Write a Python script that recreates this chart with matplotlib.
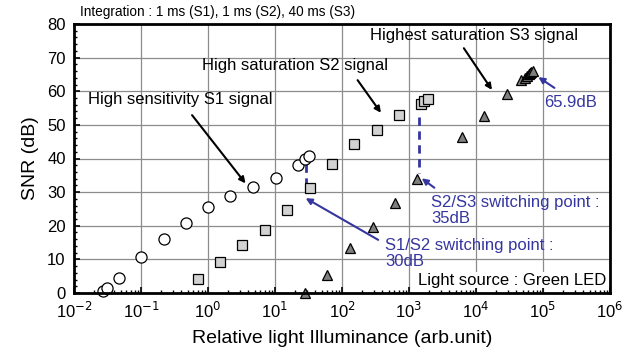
import matplotlib
matplotlib.use("Agg")
import matplotlib.pyplot as plt
from matplotlib.ticker import LogLocator, MultipleLocator, NullFormatter

plt.rcParams['font.family'] = ['Liberation Sans', 'DejaVu Sans']

# S1: high sensitivity (circles)
s1_x = [0.0275, 0.0316, 0.0476, 0.100, 0.217, 0.47, 1.0, 2.16, 4.73, 10.2, 22.3, 28.4, 31.8]
s1_y = [0.7, 1.6, 4.5, 10.7, 16.1, 20.9, 25.6, 28.8, 31.5, 34.1, 38.2, 39.9, 40.6]
# S2: high saturation (squares)
s2_x = [0.70, 1.5, 3.27, 7.06, 15.3, 33.3, 71, 152, 328, 708, 1514, 1694, 1945]
s2_y = [4.2, 9.3, 14.4, 18.7, 24.7, 31.3, 38.3, 44.3, 48.5, 52.9, 56.2, 57.1, 57.6]
# S3: highest saturation (triangles)
s3_x = [27.7, 59, 132, 286, 617, 1318, 6150, 13280, 29040, 47500, 53000, 57000, 61000, 64000, 67000, 70000]
s3_y = [0.0, 5.3, 13.5, 19.7, 26.7, 33.8, 46.5, 52.5, 59.1, 63.4, 63.9, 64.5, 65.0, 65.4, 65.7, 65.9]

# switching points (dashed)
sw12_x = [28.7, 28.7]
sw12_y = [38.4, 32.0]
sw23_x = [1426, 1426]
sw23_y = [52.3, 35.7]

xticks = [1e-2, 1e-1, 1e0, 1e1, 1e2, 1e3, 1e4, 1e5, 1e6]
xticklabels = [r'10$^{-2}$', r'10$^{-1}$', r'10$^{0}$', r'10$^{1}$', r'10$^{2}$',
               r'10$^{3}$', r'10$^{4}$', r'10$^{5}$', r'10$^{6}$']
yticks = [0, 10, 20, 30, 40, 50, 60, 70, 80]

blue = '#3535a0'

fig = plt.figure(figsize=(6.36, 3.56), dpi=100)
ax = fig.add_axes([74/636, 1-293/356, (610-74)/636, (293-24)/356])

ax.set_xscale('log')
ax.set_xlim(1e-2, 1e6)
ax.set_ylim(0, 80)
ax.grid(True, which='major', color='#8c8c8c', linewidth=0.9)
ax.set_axisbelow(True)

ax.plot(sw12_x, sw12_y, color=blue, linestyle=(0, (3, 2)), linewidth=2, zorder=2)
ax.plot(sw23_x, sw23_y, color=blue, linestyle=(0, (3, 2)), linewidth=2, zorder=2)

ax.plot(s1_x, s1_y, linestyle='none', marker='o', markersize=8, markerfacecolor='white',
        markeredgecolor='black', markeredgewidth=0.9, zorder=4, clip_on=False)
ax.plot(s2_x, s2_y, linestyle='none', marker='s', markersize=7.2, markerfacecolor='#d2d2d2',
        markeredgecolor='black', markeredgewidth=0.9, zorder=4, clip_on=False)
ax.plot(s3_x, s3_y, linestyle='none', marker='^', markersize=7.2, markerfacecolor='#7f7f7f',
        markeredgecolor='black', markeredgewidth=0.9, zorder=4, clip_on=False)

ax.set_xticks(xticks)
ax.set_xticklabels(xticklabels)
ax.xaxis.set_minor_locator(LogLocator(base=10, subs=range(2, 10), numticks=20))
ax.xaxis.set_minor_formatter(NullFormatter())
ax.set_yticks(yticks)
ax.yaxis.set_minor_locator(MultipleLocator(2))
ax.tick_params(axis='both', which='major', direction='in', length=4, width=1.2, labelsize=12, pad=6)
ax.tick_params(axis='both', which='minor', direction='in', length=2.5, width=1)
ax.tick_params(axis='x', which='both', top=False)
ax.tick_params(axis='y', which='both', right=False)

for sp in ax.spines.values():
    sp.set_linewidth(2)
    sp.set_zorder(5)

ax.set_xlabel('Relative light Illuminance (arb.unit)', fontsize=14, labelpad=6)
ax.set_ylabel('SNR (dB)', fontsize=14, labelpad=6)

fig.text(80/636, 1-12/356, 'Integration : 1 ms (S1), 1 ms (S2), 40 ms (S3)', fontsize=9.8,
         ha='left', va='center')

fs = 12
arrow_k = dict(arrowstyle='-|>', color='black', lw=1.5, mutation_scale=9, shrinkA=0, shrinkB=0)
arrow_b = dict(arrowstyle='-|>', color=blue, lw=1.5, mutation_scale=9, shrinkA=0, shrinkB=0)

ax.text(0.0164, 57.6, 'High sensitivity S1 signal', fontsize=fs, ha='left', va='center')
ax.annotate('', xy=(3.63, 32.6), xytext=(0.578, 52.9), arrowprops=arrow_k)
ax.text(0.805, 67.6, 'High saturation S2 signal', fontsize=fs, ha='left', va='center')
ax.annotate('', xy=(381, 53.6), xytext=(171, 63.3), arrowprops=arrow_k)
ax.text(264, 76.5, 'Highest saturation S3 signal', fontsize=fs, ha='left', va='center')
ax.annotate('', xy=(17300, 60.4), xytext=(6590, 72.8), arrowprops=arrow_k)

ax.text(104000, 56.7, '65.9dB', fontsize=fs, ha='left', va='center', color=blue)
ax.annotate('', xy=(85300, 64.2), xytext=(148000, 61.0), arrowprops=arrow_b)
ax.text(2135, 24.5, 'S2/S3 switching point :\n35dB', fontsize=fs, ha='left', va='center',
        color=blue, linespacing=1.05)
ax.annotate('', xy=(1549, 34.1), xytext=(2390, 31.3), arrowprops=arrow_b)
ax.text(437, 11.7, 'S1/S2 switching point :\n30dB', fontsize=fs, ha='left', va='center',
        color=blue, linespacing=1.05)
ax.annotate('', xy=(28.7, 28.2), xytext=(347, 15.8), arrowprops=arrow_b)

ax.text(0.993, 0.048, 'Light source : Green LED', transform=ax.transAxes, fontsize=fs,
        ha='right', va='center', zorder=6,
        bbox=dict(facecolor='white', edgecolor='none', pad=0.5))

fig.savefig('out.png', dpi=100)
